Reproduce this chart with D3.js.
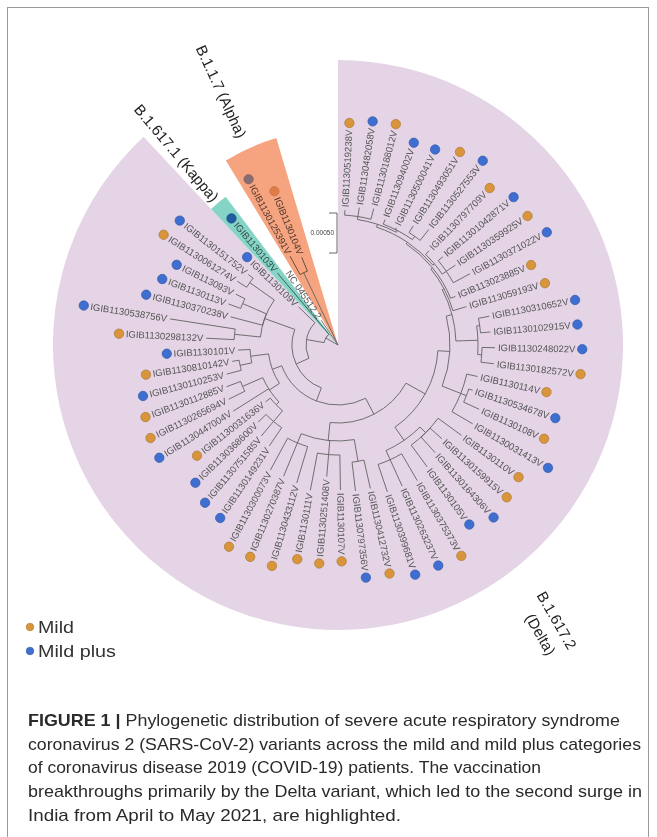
<!DOCTYPE html>
<html>
<head>
<meta charset="utf-8">
<script src="https://cdn.jsdelivr.net/npm/d3@7"></script>
<style>
  body { margin: 0; background: #fff; }
  svg { display: block; }
</style>
</head>
<body>
<svg id="fig" width="657" height="837"></svg>
<script>
// ---------------------------------------------------------------
// Tree (Newick pieces, branch lengths in 1e-5 substitutions/site),
// children listed in clockwise leaf order.
// ---------------------------------------------------------------
const cladeG1 = "((IGIB1130519238V:6.25,IGIB1130482058V:11.25,IGIB1130188012V:13.75):3.75,(IGIB113094002V:6.25,IGIB1130500041V:2.5,(IGIB1130493051V:10,IGIB1130527553V:17.5):5):2.5)";
const cladeG2 = "(IGIB1130797709V:6.25,(IGIB11301042871V:7.5,IGIB1130359925V:13.75,IGIB1130371022V:23.75):6.25)";
const cladeF = "((IGIB1130310652V:13.75,IGIB1130102915V:12.5):3.75,(IGIB1130248022V:16.25,IGIB1130182572V:16.25):5)";
const cladeE = "(IGIB1130114V:13.75,(IGIB1130534678V:5,IGIB1130108V:21.25):7.5,IGIB1130031413V:30)";
const cladeC = "((IGIB1130110V:36.25,IGIB1130159915V:20,IGIB1130164306V:26.25,IGIB1130105V:33.75):10,(IGIB1130375373V:38.75,IGIB1130263237V:36.25,IGIB1130399681V:36.25):12.5)";
const cladeB = "((IGIB1130412732V:36.25,IGIB1130797356V:36.25):27.5,(IGIB1130107V:43.75,IGIB1130251408V:27.5,IGIB1130111V:47.5):17.5,(IGIB1130433112V:47.5,IGIB1130270387V:45,IGIB1130300073V:45):12.5)";
const cladeLL = "((((IGIB1130149231V:27.5,IGIB1130751585V:23.75,IGIB1130368600V:13.75):17.5,IGIB1130031636V:7.5):5,IGIB1130447004V:52.5,(IGIB1130265694V:22.5,IGIB1130112885V:18.75):27.5):15,((IGIB1130110253V:18.75,IGIB1130810142V:8.75):15,IGIB1130101V:15):22.5)";
const cladeLeft = "((IGIB1130298132V:35,IGIB1130538756V:82.5):32.5,IGIB1130370238V:41.25,(IGIB1130113V:16.25,IGIB113093V:12.5):32.5,(IGIB1130061274V:13.75,IGIB1130151752V:7.5):37.5)";
const cladeAlpha = "(IGIB1130125391V:26.25,IGIB1130104V:18.75)";

const deltaTree =
  `((((((((((${cladeG1}:3.75,${cladeG2}:2.5):2.5,IGIB113023885V:6.25):2.5,IGIB113059193V:17.5):2.5,` +
  `${cladeF}:27.5):7.5,${cladeE}:25):15,${cladeC}:20):27.5,${cladeB}:22.5):22.5,${cladeLL}:12.5):17.5,` +
  `${cladeLeft}:40):17.5,IGIB1130109V:28.75)`;
const newick = `((${deltaTree}:22.5,IGIB1130103V:100):17.5,NC_045512.2:37.5,${cladeAlpha}:100);`;

// Patient category of each sequenced sample
const mildSamples = [
  "IGIB1130519238V","IGIB1130188012V","IGIB1130493051V","IGIB1130797709V","IGIB1130359925V",
  "IGIB113023885V","IGIB113059193V","IGIB1130182572V","IGIB1130114V","IGIB1130108V",
  "IGIB1130110V","IGIB1130159915V","IGIB1130375373V","IGIB1130412732V","IGIB1130107V",
  "IGIB1130251408V","IGIB1130111V","IGIB1130433112V","IGIB1130270387V","IGIB1130300073V",
  "IGIB1130031636V","IGIB1130265694V","IGIB1130112885V","IGIB1130810142V","IGIB1130298132V",
  "IGIB1130061274V","IGIB1130104V"
];
const mildPlusSamples = [
  "IGIB1130482058V","IGIB113094002V","IGIB1130500041V","IGIB1130527553V","IGIB11301042871V",
  "IGIB1130371022V","IGIB1130310652V","IGIB1130102915V","IGIB1130248022V","IGIB1130534678V",
  "IGIB1130031413V","IGIB1130164306V","IGIB1130105V","IGIB1130263237V","IGIB1130399681V",
  "IGIB1130797356V","IGIB1130149231V","IGIB1130751585V","IGIB1130368600V","IGIB1130447004V",
  "IGIB1130110253V","IGIB1130101V","IGIB1130538756V","IGIB1130370238V","IGIB1130113V",
  "IGIB113093V","IGIB1130151752V","IGIB1130109V","IGIB1130103V","IGIB1130125391V"
];

// Highlighted lineages: first and last leaf of each range
const cladeKeys = ["Delta", "Kappa", "Alpha"];
const cladeFirstLeaf = ["IGIB1130519238V", "IGIB1130103V", "IGIB1130125391V"];
const cladeLastLeaf = ["IGIB1130109V", "IGIB1130103V", "IGIB1130104V"];
const cladeTitles = [["B.1.617.2", "(Delta)"], ["B.1.617.1 (Kappa)"], ["B.1.1.7 (Alpha)"]];

const legendLabels = ["Mild", "Mild plus"];
const scaleBarValue = 50; // 0.00050 substitutions/site
const captionBold = "FIGURE 1 |";
const captionLines = [
  " Phylogenetic distribution of severe acute respiratory syndrome",
  "coronavirus 2 (SARS-CoV-2) variants across the mild and mild plus categories",
  "of coronavirus disease 2019 (COVID-19) patients. The vaccination",
  "breakthroughs primarily by the Delta variant, which led to the second surge in",
  "India from April to May 2021, are highlighted."
];

// ---------------------------------------------------------------
// Styling
// ---------------------------------------------------------------
const severityColor = { mild: "#d8953c", mildPlus: "#3e6ecf" };
const cladeFill = { Delta: "#e4d4e6", Kappa: "#86d4c6", Alpha: "#f6a480" };
const cladeOuter = { Delta: 285, Kappa: 186, Alpha: 216 };
const cladePadEnd = { Delta: 0.5, Kappa: 0.5, Alpha: 1.0 };
const cx = 338, cy = 345;
const leafFont = "Liberation Sans, Arial, sans-serif";

function parseNewick(s) {
  const ancestors = [];
  let tree = {};
  const tokens = s.split(/\s*(;|\(|\)|,|:)\s*/);
  for (let i = 0; i < tokens.length; i++) {
    const t = tokens[i];
    if (t === "(") { const sub = {}; tree.children = [sub]; ancestors.push(tree); tree = sub; }
    else if (t === ",") { const sub = {}; ancestors[ancestors.length - 1].children.push(sub); tree = sub; }
    else if (t === ")") { tree = ancestors.pop(); }
    else if (t === ":" || t === ";" || t === "") { /* separators */ }
    else {
      const prev = tokens[i - 1];
      if (prev === ":") tree.length = parseFloat(t);
      else tree.name = t;
    }
  }
  return tree;
}

const root = d3.hierarchy(parseNewick(newick), d => d.children);
const nLeaves = root.leaves().length;
const leafStep = 5.87;
d3.cluster().size([leafStep * nLeaves, 1]).separation(() => 1)(root);
root.eachBefore(d => { d.div = (d.parent ? d.parent.div : 0) + (d.data.length || 0); });

const rScale = d3.scaleLinear().domain([0, scaleBarValue]).range([0, 40]);
const rad = a => a * Math.PI / 180;
const polar = (a, r) => [r * Math.sin(rad(a)), -r * Math.cos(rad(a))];

const leaves = root.leaves();
const leafByName = new Map(leaves.map(d => [d.data.name, d]));
const severity = name => mildSamples.includes(name) ? "mild" : (mildPlusSamples.includes(name) ? "mildPlus" : null);

// angular extent of each highlighted lineage
const cladeRanges = cladeKeys.map((k, i) => {
  const a0 = leafByName.get(cladeFirstLeaf[i]).x, a1 = leafByName.get(cladeLastLeaf[i]).x;
  return { key: k, start: a0 - leafStep / 2, end: a1 + leafStep * cladePadEnd[k], mid: (a0 + a1) / 2, titles: cladeTitles[i] };
});
cladeRanges[0].start = Math.max(0, cladeRanges[0].start);
const cladeOf = a => {
  const c = cladeRanges.slice(1).find(c => a >= c.start && a <= c.end);
  return c ? c.key : null;
};

const svg = d3.select("#fig");
svg.append("rect").attr("width", 657).attr("height", 837).attr("fill", "#fff");
svg.append("rect").attr("x", 7.5).attr("y", 7.5).attr("width", 641).attr("height", 840)
  .attr("fill", "none").attr("stroke", "#9a9a9a").attr("stroke-width", 1);

const g = svg.append("g").attr("transform", `translate(${cx},${cy})`);

// clade ranges
const arcGen = d3.arc().innerRadius(0);
g.append("g").selectAll("path").data(cladeRanges).join("path")
  .attr("d", c => arcGen({ startAngle: rad(c.start), endAngle: rad(c.end), outerRadius: cladeOuter[c.key] }))
  .attr("fill", c => cladeFill[c.key]);

// branches
function linkPath(d) {
  const a0 = d.parent.x, a1 = d.x, r0 = rScale(d.parent.div), r1 = rScale(d.div);
  const [x0, y0] = polar(a0, r0), [x1, y1] = polar(a1, r0), [x2, y2] = polar(a1, r1);
  const sweep = a1 > a0 ? 1 : 0, large = Math.abs(a1 - a0) > 180 ? 1 : 0;
  return `M${x0},${y0}A${r0},${r0} 0 ${large} ${sweep} ${x1},${y1}L${x2},${y2}`;
}
g.append("g").attr("fill", "none").attr("stroke", "#626262").attr("stroke-width", 0.9)
  .selectAll("path").data(root.descendants().slice(1)).join("path")
  .attr("d", linkPath)
  .style("mix-blend-mode", d => d.data.children || !cladeOf(d.x) ? null : "multiply");

// leaf labels
const labels = g.append("g").selectAll("text").data(leaves).join("text")
  .attr("transform", d => `rotate(${d.x - 90}) translate(${rScale(d.div) + 3},0)${d.x > 180 ? " rotate(180)" : ""}`)
  .attr("text-anchor", d => d.x > 180 ? "end" : "start")
  .attr("dy", "0.35em")
  .attr("font-family", leafFont)
  .attr("font-size", 9.5)
  .attr("fill", "#555")
  .style("mix-blend-mode", d => cladeOf(d.x) ? "multiply" : null)
  .text(d => d.data.name.replace(/_/g, " "));
labels.each(function (d) { d.labelLen = this.getComputedTextLength(); });

// category dots
g.append("g").selectAll("circle").data(leaves.filter(d => severity(d.data.name))).join("circle")
  .attr("transform", d => { const [x, y] = polar(d.x, rScale(d.div) + 3 + d.labelLen + 6.8); return `translate(${x},${y})`; })
  .attr("r", 4.7)
  .attr("fill", d => severityColor[severity(d.data.name)])
  .attr("stroke", d => d3.color(severityColor[severity(d.data.name)]).darker(0.6))
  .attr("stroke-width", 0.7)
  .style("mix-blend-mode", d => cladeOf(d.x) ? "multiply" : null)
  .style("opacity", d => cladeOf(d.x) === "Alpha" ? 0.6 : 1);

// scale bar
const sb = g.append("g").attr("transform", `translate(-1,${-132})`).attr("stroke", "#555").attr("fill", "none");
sb.append("path").attr("d", `M-8,0H0V${rScale(scaleBarValue)}H-8`).attr("stroke-width", 0.9);
g.append("text").attr("x", -4).attr("y", -132 + rScale(scaleBarValue) / 2).attr("dy", "0.35em")
  .attr("text-anchor", "end").attr("font-family", leafFont).attr("font-size", 6.5).attr("fill", "#444")
  .text((scaleBarValue * 1e-5).toFixed(5));

// lineage titles for Kappa and Alpha (radial, reading inward)
cladeRanges.slice(1).forEach(c => {
  const r = cladeOuter[c.key] + (c.key === "Alpha" ? 13 : 4);
  const a = c.key === "Alpha" ? (c.start + c.end) / 2 - 0.8 : c.mid;
  g.append("text")
    .attr("transform", `rotate(${a - 90}) translate(${r},0) rotate(180)`)
    .attr("text-anchor", "end").attr("dy", "0.35em")
    .attr("font-family", leafFont).attr("font-size", 15).attr("fill", "#222")
    .text(c.titles[0]);
});

// Delta title
const dt = svg.append("g").attr("transform", "translate(547,626) rotate(60)");
dt.selectAll("text").data(cladeRanges[0].titles).join("text")
  .attr("text-anchor", "middle").attr("x", (d, i) => i * 4).attr("y", (d, i) => i * 21 - 6)
  .attr("font-family", leafFont).attr("font-size", 15).attr("fill", "#222")
  .text(d => d);

// legend
const lg = svg.append("g").attr("transform", "translate(30,627)");
const legendKeys = ["mild", "mildPlus"];
lg.selectAll("circle").data(legendKeys).join("circle")
  .attr("cy", (d, i) => i * 24).attr("r", 3.8)
  .attr("fill", d => severityColor[d]).attr("stroke", d => d3.color(severityColor[d]).darker(0.6)).attr("stroke-width", 0.6);
lg.selectAll("text").data(legendLabels).join("text")
  .attr("x", 8).attr("y", (d, i) => i * 24).attr("dy", "0.36em")
  .attr("font-family", leafFont).attr("font-size", 17).attr("fill", "#333")
  .attr("textLength", (d, i) => [36, 78][i]).attr("lengthAdjust", "spacingAndGlyphs")
  .text(d => d);

// caption
const capWidths = [592, 613, 513, 614, 373];
const cap = svg.append("g").attr("font-family", leafFont).attr("font-size", 17).attr("fill", "#2a2a2a");
captionLines.forEach((line, i) => {
  const t = cap.append("text").attr("x", 28).attr("y", 726 + i * 23.7)
    .attr("textLength", capWidths[i]).attr("lengthAdjust", "spacingAndGlyphs");
  if (i === 0) t.append("tspan").attr("font-weight", "bold").text(captionBold);
  t.append("tspan").text(line);
});
</script>
</body>
</html>
